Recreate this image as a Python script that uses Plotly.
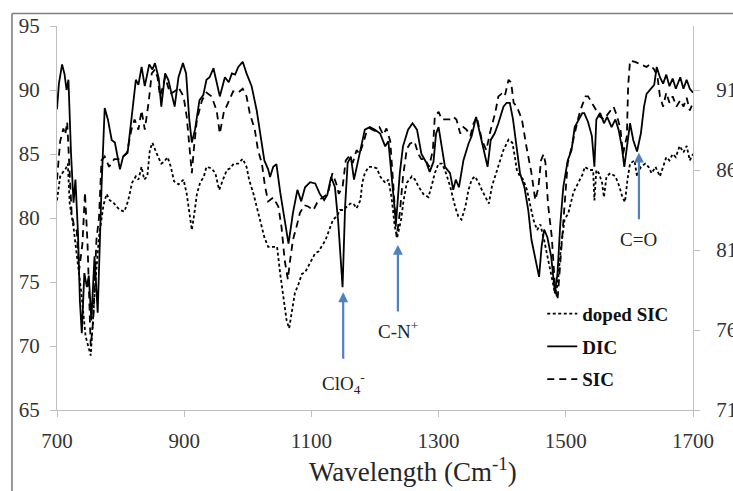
import plotly.graph_objects as go

# ---------------- data ----------------
dic_x = [700, 703, 708, 712, 715, 718, 722, 726, 729, 733, 736, 739, 743, 747, 750, 754, 759, 764, 770, 775,
         780, 786, 791, 799, 804, 811, 817, 824, 828, 833, 838, 845, 850, 854, 860, 864, 870, 875, 885, 891,
         898, 903, 908, 912, 917, 924, 930, 935, 940, 946, 951, 956, 964, 970, 975, 980, 985, 992, 998, 1006,
         1014, 1019, 1026, 1032, 1035, 1040, 1045, 1051, 1056, 1064, 1071, 1078, 1084, 1090, 1098, 1106, 1113,
         1120, 1125, 1131, 1137, 1142, 1149, 1153, 1157, 1162, 1167, 1174, 1179, 1184, 1192, 1200, 1208, 1216,
         1221, 1226, 1233, 1239, 1244, 1252, 1259, 1266, 1273, 1281, 1286, 1292, 1296, 1300, 1305, 1310, 1318,
         1323, 1327, 1332, 1339, 1347, 1352, 1359, 1365, 1372, 1377, 1382, 1388, 1394, 1402, 1407, 1412, 1417,
         1423, 1428, 1435, 1441, 1446, 1452, 1458, 1462, 1466, 1471, 1477, 1483, 1487, 1491, 1496, 1503, 1509,
         1514, 1521, 1526, 1529, 1535, 1541, 1545, 1548, 1554, 1560, 1565, 1572, 1578, 1583, 1588, 1592, 1597,
         1601, 1606, 1612, 1618, 1623, 1627, 1632, 1639, 1643, 1648, 1653, 1658, 1663, 1668, 1673, 1680, 1685,
         1690, 1695, 1700]
dic_y = [88.5, 90.5, 92.0, 91.2, 90.0, 90.8, 85.1, 81.2, 83.0, 78.8, 73.5, 71.0, 75.7, 74.6, 75.5, 72.0, 77.0, 72.6, 82.4, 88.6,
         87.7, 86.1, 85.9, 83.8, 84.8, 85.1, 87.7, 90.8, 90.4, 91.8, 90.3, 92.0, 91.6, 92.1, 90.9, 88.7, 91.3, 90.8, 88.7, 91.0,
         92.1, 91.3, 87.7, 85.9, 86.9, 89.2, 89.6, 90.8, 91.0, 91.7, 90.6, 89.5, 91.0, 90.6, 91.3, 91.2, 91.8, 92.2, 91.3, 90.3,
         88.4, 86.9, 84.5, 83.8, 83.2, 84.0, 84.2, 82.0, 80.4, 78.0, 80.4, 82.2, 81.3, 82.4, 82.8, 82.7, 81.9,
         81.4, 81.8, 83.2, 82.4, 79.8, 74.6, 80.9, 84.3, 84.8, 83.0, 84.5, 85.8, 86.9, 87.1, 86.9, 86.6, 85.6,
         86.0, 83.2, 79.6, 83.5, 85.6, 86.9, 87.4, 86.9, 85.0, 84.3, 83.6, 84.4, 86.6, 87.1, 85.6, 84.0, 83.5,
         82.2, 83.0, 82.4, 84.5, 85.8, 86.4, 87.9, 86.6, 85.0, 84.0, 86.1, 86.6, 87.4, 88.7, 89.0, 89.0, 87.7,
         85.6, 83.5, 82.4, 80.6, 78.3, 76.7, 75.4, 77.8, 79.1, 78.5, 77.0, 74.1, 75.7, 79.3, 82.4, 84.5, 85.3,
         87.1, 87.7, 88.2, 88.2, 87.5, 86.4, 84.0, 87.7, 88.2, 87.4, 87.9, 87.1, 87.7, 86.9, 85.6, 84.0, 86.1,
         87.4, 86.1, 85.2, 86.6, 88.7, 89.7, 90.0, 90.4, 91.8, 91.0, 90.5, 91.2, 90.3, 90.9, 90.1, 91.0, 90.1,
         90.8, 90.1, 89.8]

sic_x = [700, 705, 710, 713, 716, 720, 723, 727, 731, 735, 740, 744, 748, 753, 757, 762, 766, 770, 775, 782,
         790, 800, 810, 817, 822, 828, 833, 838, 844, 849, 854, 858, 862, 866, 870, 878, 885, 891, 899, 904,
         909, 912, 915, 920, 928, 935, 943, 951, 956, 962, 969, 977, 985, 992, 998, 1003, 1011, 1016, 1022,
         1027, 1032, 1040, 1048, 1053, 1058, 1063, 1066, 1071, 1077, 1082, 1089, 1095, 1103, 1111, 1118, 1126,
         1133, 1139, 1143, 1149, 1154, 1159, 1165, 1171, 1176, 1181, 1186, 1192, 1200, 1207, 1213, 1218, 1224,
         1229, 1234, 1239, 1244, 1250, 1255, 1262, 1268, 1273, 1279, 1285, 1291, 1294, 1300, 1305, 1312, 1318,
         1323, 1328, 1334, 1339, 1344, 1350, 1355, 1360, 1368, 1375, 1382, 1389, 1394, 1399, 1404, 1410, 1414,
         1418, 1423, 1431, 1438, 1446, 1452, 1457, 1461, 1465, 1468, 1472, 1478, 1483, 1487, 1492, 1498, 1503,
         1508, 1514, 1520, 1525, 1531, 1535, 1541, 1549, 1554, 1560, 1567, 1575, 1581, 1586, 1590, 1596, 1598,
         1601, 1609, 1619, 1627, 1632, 1639, 1644, 1648, 1653, 1658, 1663, 1668, 1674, 1680, 1685, 1690, 1695,
         1700]
sic_y = [83.0, 86.0, 87.0, 86.5, 87.5, 84.0, 80.4, 79.3, 79.0, 76.0, 78.0, 82.0, 78.0, 70.0, 72.0, 78.3, 80.0, 84.5, 84.8, 84.0,
         84.6, 84.6, 85.1, 86.9, 87.7, 86.9, 88.4, 86.9, 89.0, 91.3, 91.6, 91.0, 89.5, 90.2, 91.0, 89.7, 89.9, 90.2, 89.5, 87.9,
         85.0, 83.5, 85.3, 87.7, 89.2, 89.8, 89.5, 88.4, 86.6, 88.2, 89.0, 89.9, 89.8, 90.1, 89.5, 88.2, 86.9, 85.3, 84.3,
         82.5, 81.3, 81.6, 80.9, 79.3, 76.7, 75.2, 76.5, 78.3, 79.4, 80.4, 81.0, 80.9, 80.6, 81.4, 81.6, 81.9,
         83.5, 82.7, 81.9, 82.4, 84.5, 84.8, 84.3, 85.3, 85.0, 85.8, 86.6, 87.0, 86.8, 87.1, 86.5, 87.0, 86.0,
         82.4, 78.5, 80.4, 83.2, 85.4, 85.8, 86.0, 85.0, 84.6, 84.6, 84.0, 85.3, 87.9, 88.3, 87.7, 87.7, 87.7,
         87.9, 87.7, 86.6, 87.1, 86.9, 86.4, 87.4, 87.9, 86.1, 85.3, 86.9, 88.2, 89.5, 89.7, 89.5, 90.8, 90.6,
         89.0, 88.7, 87.7, 85.6, 83.5, 81.4, 82.4, 84.5, 85.0, 84.3, 81.1, 78.5, 74.6, 73.6, 77.2, 80.9, 84.3,
         85.3, 86.6, 87.9, 88.7, 89.5, 89.5, 89.0, 88.4, 87.9, 87.7, 88.2, 88.7, 87.9, 86.9, 85.0, 86.4, 90.3,
         92.3, 92.2, 91.95, 91.8, 92.0, 91.6, 91.1, 89.5, 88.7, 89.8, 89.0, 89.5, 88.7, 89.2, 88.7, 89.4, 88.4,
         89.0]

# doped SIC is plotted against the right-hand axis (71-95)
doped_x = [700, 705, 710, 714, 717, 720, 726, 731, 738, 745, 753, 760, 766, 773, 778, 783, 788, 794, 799, 806,
           812, 818, 824, 828, 833, 837, 842, 846, 850, 857, 864, 868, 874, 879, 884, 891, 899, 904, 908, 912,
           916, 920, 925, 931, 935, 943, 949, 955, 961, 967, 972, 978, 985, 992, 998, 1002, 1009, 1015, 1020,
           1026, 1032, 1039, 1046, 1051, 1056, 1061, 1065, 1069, 1074, 1080, 1085, 1090, 1095, 1100, 1106, 1111,
           1116, 1122, 1128, 1134, 1140, 1145, 1150, 1155, 1161, 1166, 1171, 1177, 1180, 1184, 1190, 1197, 1203,
           1208, 1216, 1221, 1226, 1231, 1235, 1241, 1245, 1250, 1258, 1263, 1268, 1276, 1284, 1289, 1294, 1300,
           1305, 1310, 1318, 1326, 1331, 1336, 1342, 1347, 1352, 1357, 1363, 1368, 1374, 1379, 1384, 1390, 1397,
           1402, 1410, 1416, 1420, 1423, 1428, 1433, 1439, 1444, 1449, 1455, 1460, 1466, 1472, 1478, 1483, 1487,
           1492, 1498, 1504, 1512, 1520, 1526, 1530, 1537, 1543, 1545, 1548, 1552, 1557, 1560, 1564, 1570, 1578,
           1584, 1589, 1593, 1597, 1601, 1608, 1612, 1618, 1625, 1630, 1635, 1641, 1648, 1653, 1658, 1663, 1668,
           1673, 1679, 1685, 1690, 1695, 1700]
doped_y = [84.1, 85.6, 85.9, 86.1, 86.4, 83.9, 82.4, 80.8, 78.4, 75.6, 74.4, 78.8, 81.8, 83.8, 84.5, 84.1, 84.0, 83.7, 83.5, 83.4,
           84.1, 85.2, 85.6, 85.4, 86.2, 85.4, 85.6, 87.25, 87.7, 87.0, 86.4, 86.5, 86.8, 86.2, 85.3, 85.1, 85.4, 84.5, 83.3, 82.25,
           83.3, 84.5, 85.2, 85.6, 86.2, 86.1, 85.8, 84.75, 85.4, 86.0, 86.1, 86.4, 86.4, 86.7, 86.2, 85.4, 84.5, 83.5, 82.7,
           81.8, 81.2, 81.2, 81.2, 79.5, 78.1, 76.6, 76.1, 77.05, 78.3, 78.9, 79.5, 79.6, 80.0, 80.4, 80.8, 80.9,
           81.2, 81.6, 82.25, 82.9, 83.1, 83.5, 83.5, 83.7, 83.9, 83.9, 83.6, 84.1, 85.2, 85.8, 86.2, 86.2, 86.1,
           85.6, 85.2, 85.4, 84.3, 82.5, 81.8, 82.9, 84.1, 85.2, 85.6, 85.4, 85.0, 84.5, 84.3, 85.0, 85.8, 86.4,
           86.4, 86.0, 85.0, 83.7, 83.1, 82.9, 83.7, 84.75, 85.4, 85.6, 85.2, 84.75, 84.3, 83.9, 85.0, 85.8, 86.6,
           87.25, 87.9, 87.7, 86.8, 86.0, 85.6, 85.4, 84.75, 83.7, 82.9, 82.25, 82.6, 81.6, 80.4, 79.1, 78.3, 78.8,
           81.0, 82.9, 83.3, 84.6, 85.2, 85.7, 86.2, 86.0, 86.0, 84.1, 86.0, 85.8, 85.2, 84.3, 85.6, 85.8, 85.6,
           85.0, 84.3, 84.0, 85.4, 86.4, 86.6, 85.6, 86.2, 86.4, 86.2, 85.8, 86.2, 85.6, 86.2, 86.8, 86.6, 87.0,
           86.8, 87.5, 87.1, 87.5, 86.6, 87.0]

x_ticks = [700, 900, 1100, 1300, 1500, 1700]
y_ticks = [65, 70, 75, 80, 85, 90, 95]
y2_ticks = [71, 76, 81, 86, 91]

# annotation: label, arrow tip (wavenumber, left-axis value), label centre value
peak_labels = ["ClO<sub>4</sub><sup>-</sup>", "C-N<sup>+</sup>", "C=O"]
peak_x = [1150, 1236, 1615]
peak_tip = [74.2, 77.9, 85.1]
peak_text_y = [67.1, 71.25, 78.3]

# ---------------- figure ----------------
SERIF = "Liberation Serif, Times New Roman, serif"
AXIS_GRAY = "#bfbfbf"
TICK_FONT = dict(family=SERIF, size=21, color="#333333")

fig = go.Figure()
fig.add_trace(go.Scatter(x=doped_x, y=doped_y, name="doped SIC", mode="lines", yaxis="y2",
                         legendgroup="a",
                         line=dict(color="black", width=1.8, dash="3px,2.5px")))
fig.add_trace(go.Scatter(x=dic_x, y=dic_y, name="DIC", mode="lines", legendgroup="b",
                         line=dict(color="black", width=1.8)))
fig.add_trace(go.Scatter(x=sic_x, y=sic_y, name="SIC", mode="lines", legendgroup="c",
                         line=dict(color="black", width=1.8, dash="7px,5px")))

axis_common = dict(showline=True, linecolor=AXIS_GRAY, linewidth=1.3, ticks="outside",
                   ticklen=6, tickcolor=AXIS_GRAY, tickwidth=1.3, showgrid=False,
                   zeroline=False, tickfont=TICK_FONT, automargin=False)

for lab, px_, tip, ty in zip(peak_labels, peak_x, peak_tip, peak_text_y):
    fig.add_annotation(x=px_, y=tip, xref="x", yref="y", text="", showarrow=True,
                       ax=0, ay=68, arrowhead=2, arrowsize=0.9, arrowwidth=2.2,
                       arrowcolor="#4f81bd", standoff=0)
    fig.add_annotation(x=px_, y=ty, xref="x", yref="y", text=lab, showarrow=False,
                       font=dict(family=SERIF, size=19, color="#222222"),
                       xanchor="center", yanchor="middle")

fig.add_annotation(x=0.56, y=-0.156, xref="paper", yref="paper",
                   text="Wavelength (Cm<sup>-1</sup>)", showarrow=False,
                   font=dict(family=SERIF, size=27, color="#262626"),
                   xanchor="center", yanchor="middle")

# outer frame of the original figure (top and left edges)
fig.add_shape(type="line", xref="paper", yref="paper", x0=-0.0708, x1=1.3, y0=1.0326, y1=1.0326,
              line=dict(color="#7f7f7f", width=1.6))
fig.add_shape(type="line", xref="paper", yref="paper", x0=-0.0708, x1=-0.0708, y0=-0.4, y1=1.0326,
              line=dict(color="#7f7f7f", width=1.6))

fig.update_layout(
    width=733, height=491,
    margin=dict(l=57, r=40, t=26, b=81, autoexpand=False),
    paper_bgcolor="white", plot_bgcolor="white",
    xaxis=dict(range=[700, 1700], tickvals=x_ticks, ticklabelstandoff=6, **axis_common),
    yaxis=dict(range=[65, 95], tickvals=y_ticks, ticklabelstandoff=6, **axis_common),
    yaxis2=dict(range=[71, 95], tickvals=y2_ticks, overlaying="y", side="right",
                ticklabelstandoff=12, **axis_common),
    legend=dict(x=0.763, y=0.30, xanchor="left", yanchor="top",
                font=dict(family=SERIF, size=19, color="#111111", weight="bold"),
                bgcolor="rgba(0,0,0,0)", tracegroupgap=5, itemwidth=30),
    showlegend=True,
)

fig.write_html("out.html")
